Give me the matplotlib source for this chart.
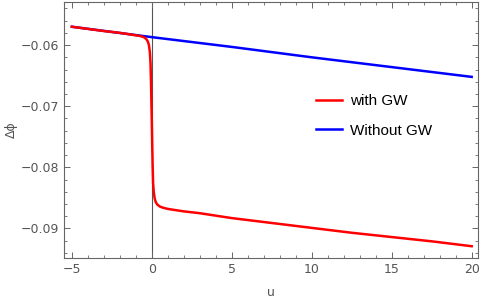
import matplotlib
matplotlib.use("Agg")
import matplotlib.pyplot as plt
from matplotlib.ticker import MultipleLocator, FuncFormatter

# without GW (straight line)
u_blue = [-5, 0, 5, 10, 15, 20]
phi_blue = [-0.0570, -0.0587, -0.0603, -0.0620, -0.0636, -0.0652]

# with GW
u_red = [-5, -3, -2, -1.5, -1, -0.75, -0.5, -0.35, -0.25, -0.18, -0.12, -0.08, -0.05,
         -0.02, 0, 0.02, 0.05, 0.08, 0.12, 0.18, 0.25, 0.35, 0.5, 0.7, 1, 1.5, 2, 3,
         5, 7.5, 10, 12.5, 15, 17.5, 20]
phi_red = [-0.0570, -0.0577, -0.0580, -0.0582, -0.0584, -0.0585, -0.0587, -0.0590,
           -0.0594, -0.0600, -0.0612, -0.0630, -0.0660, -0.0700, -0.0725, -0.0755,
           -0.0795, -0.0825, -0.0840, -0.0851, -0.0857, -0.0861, -0.0864, -0.0866,
           -0.0868, -0.0870, -0.0872, -0.0875, -0.0883, -0.0891, -0.0899, -0.0907,
           -0.0914, -0.0921, -0.0929]

fig = plt.figure(figsize=(4.8, 3.01), dpi=100)
ax = fig.add_axes([0.134, 0.143, 0.862, 0.850])

ax.axvline(0, color="#555555", lw=0.8, zorder=1)
ax.plot(u_red, phi_red, color="#ff0000", lw=1.8, label="with GW", zorder=3)
ax.plot(u_blue, phi_blue, color="#0000ff", lw=1.8, label="Without GW", zorder=2)

ax.set_xlim(-5.47, 20.4)
ax.set_ylim(-0.09482, -0.05297)

ax.xaxis.set_major_locator(MultipleLocator(5))
ax.xaxis.set_minor_locator(MultipleLocator(1))
ax.yaxis.set_major_locator(MultipleLocator(0.01))
ax.yaxis.set_minor_locator(MultipleLocator(0.002))
ax.yaxis.set_major_formatter(FuncFormatter(lambda v, p: ("%.2f" % v).replace("-", "\u2212")))
ax.xaxis.set_major_formatter(FuncFormatter(lambda v, p: ("%d" % v).replace("-", "\u2212")))

gray = "#666666"
for s in ax.spines.values():
    s.set_color(gray)
    s.set_linewidth(0.8)
ax.tick_params(which="both", direction="in", top=True, right=True, colors=gray,
               labelcolor="#555555", labelsize=9)
ax.tick_params(which="major", length=4, width=0.7)
ax.tick_params(which="minor", length=2.5, width=0.6)

ax.set_xlabel("u", color="#555555", fontsize=9, labelpad=7)
ax.set_ylabel("\u0394\u03d5", color="#555555", fontsize=9, labelpad=2)

leg = ax.legend(loc="center left", bbox_to_anchor=(0.575, 0.555), frameon=False,
                prop={"family": "Liberation Sans", "size": 11},
                handlelength=1.7, handletextpad=0.5, labelspacing=1.0)
for line in leg.get_lines():
    line.set_linewidth(1.8)

fig.savefig("out.png", dpi=100)
